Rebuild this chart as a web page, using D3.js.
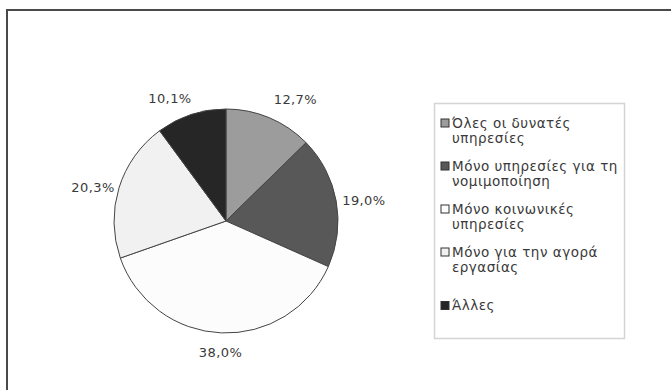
<!DOCTYPE html>
<html>
<head>
<meta charset="utf-8">
<script src="https://cdn.jsdelivr.net/npm/d3@7"></script>
<style>
  body { margin: 0; background: #fff; }
  svg { display: block; font-family: "DejaVu Sans", "Liberation Sans", Arial, sans-serif; }
</style>
</head>
<body>
<div id="vis-holder"></div>
<script>
// data
const categories = [
    "Όλες οι δυνατές υπηρεσίες",
    "Μόνο υπηρεσίες για τη νομιμοποίηση",
    "Μόνο κοινωνικές υπηρεσίες",
    "Μόνο για την αγορά εργασίας",
    "Άλλες"
];
const legendLines = [
    ["Όλες οι δυνατές", "υπηρεσίες"],
    ["Μόνο υπηρεσίες για τη", "νομιμοποίηση"],
    ["Μόνο κοινωνικές", "υπηρεσίες"],
    ["Μόνο για την αγορά", "εργασίας"],
    ["Άλλες"]
];
const values = [12.7, 19.0, 38.0, 20.3, 10.1];
const fills = ["#9c9c9c", "#585858", "#fcfcfc", "#f1f1f1", "#262626"];
// small nudges of the % labels away from the plain radial spot (Excel "best fit")
const labelNudge = [[17, 3], [5, 3], [0, -3], [-4, 6], [-14, 6]];

const w = 671;
const h = 390;
const svg = d3.select("#vis-holder").append("svg")
    .attr("width", w)
    .attr("height", h);

// outer frame (runs off the bottom / right of the picture)
svg.append("rect")
    .attr("x", 7).attr("y", 10)
    .attr("width", 700).attr("height", 420)
    .attr("fill", "none")
    .attr("stroke", "#4a4a4a")
    .attr("stroke-width", 2);

// PIE
const cx = 226, cy = 221, radius = 112;
const g = svg.append("g").attr("transform", "translate(" + cx + "," + cy + ")");

const pie = d3.pie().sort(null).value(d => d.value);
const data_ready = pie(values.map((v, i) => ({key: categories[i], value: v, i: i})));

const arc = d3.arc().innerRadius(0).outerRadius(radius);
const labelArc = d3.arc().innerRadius(135).outerRadius(135);

g.selectAll("path")
    .data(data_ready)
    .enter()
    .append("path")
    .attr("d", arc)
    .attr("fill", d => fills[d.data.i])
    .attr("stroke", "#444")
    .style("stroke-width", "1px");

g.selectAll("text")
    .data(data_ready)
    .enter()
    .append("text")
    .attr("transform", function(d) {
        const c = labelArc.centroid(d);
        const n = labelNudge[d.data.i];
        return "translate(" + (c[0] + n[0]) + "," + (c[1] + n[1]) + ")";
    })
    .attr("text-anchor", "middle")
    .attr("dy", "0.35em")
    .style("font-size", "13px")
    .style("letter-spacing", "0.4px")
    .style("fill", "#3a3a3a")
    .text(d => d3.format(".1f")(d.data.value).replace(".", ",") + "%");

// LEGEND
const boxX = 434.5, boxY = 103.5, boxW = 190, boxH = 235;
const legend = svg.append("g");
legend.append("rect")
    .attr("x", boxX).attr("y", boxY)
    .attr("width", boxW).attr("height", boxH)
    .attr("fill", "#fff")
    .attr("stroke", "#d4d4d4")
    .attr("stroke-width", 1.5);

const lineH = 15.5, gap = 12;
let y = 123;
legendLines.forEach((lines, i) => {
    // last entry sits near the bottom of the box, as in the original
    if (i === legendLines.length - 1) y = boxY + boxH - 33;
    const item = legend.append("g").attr("transform", "translate(441," + y + ")");
    item.append("rect")
        .attr("x", 0).attr("y", -4)
        .attr("width", 8).attr("height", 8)
        .attr("fill", fills[i])
        .attr("stroke", "#333")
        .attr("stroke-width", 1);
    lines.forEach((t, j) => {
        item.append("text")
            .attr("x", 11)
            .attr("y", j * lineH)
            .attr("dy", "0.35em")
            .style("font-size", "13.5px")
            .style("letter-spacing", "0.5px")
            .style("fill", "#3a3a3a")
            .text(t);
    });
    y += lines.length * lineH + gap;
});
</script>
</body>
</html>
